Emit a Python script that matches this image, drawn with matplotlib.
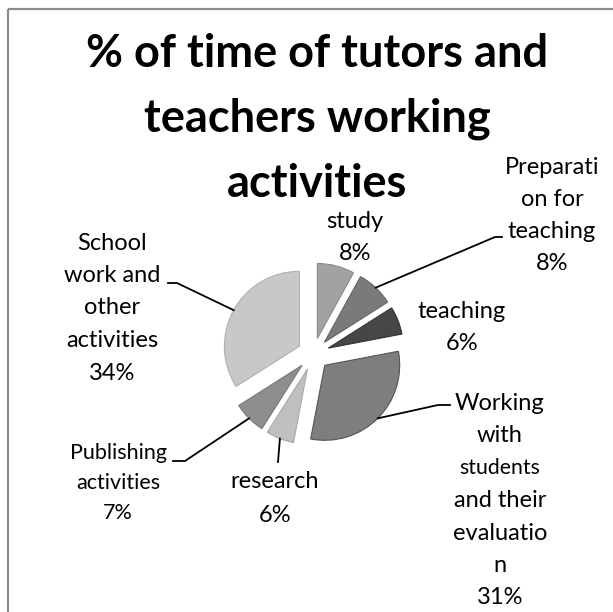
import matplotlib
matplotlib.use("Agg")
import matplotlib.pyplot as plt
import numpy as np

# ---- data ----
categories = ["study", "Preparati\non for\nteaching", "teaching",
              "Working\nwith\nstudents\nand their\nevaluatio\nn",
              "research", "Publishing\nactivities",
              "School\nwork and\nother\nactivities"]
values = [8, 8, 6, 31, 6, 7, 34]
title_lines = ["% of time of tutors and", "teachers working", "activities"]

# ---- style ----
colors = ["#a2a2a2", "#7a7a7a", "#464646", "#7e7e7e", "#c0c0c0", "#8e8e8e", "#c8c8c8"]
edge = ["#8a8a8a", "#656565", "#333333", "#555555", "#a8a8a8", "#777777", "#b0b0b0"]
W, H = 613, 612
FONT = "Lato"

# label layout: center x, first line y (pixel, from top), line spacing, font size
label_pos = [(355, 222, 32, 17), (552, 167, 32, 17), (462, 312, 31, 17),
             (500, 403, 32.5, 17), (275, 482, 33, 17), (118, 453, 30, 15.5),
             (112, 243, 32.5, 17)]
# leader elbows (pixel coords) : list of points after rim point, or None
leaders = [None, [(495, 237), (502, 237)], None, [(438, 405), (450, 405)],
           [(278, 462)], [(185, 461), (173, 461)], [(177, 283), (168, 283)]]

fig = plt.figure(figsize=(W / 100, H / 100), dpi=100)
ax = fig.add_axes([0, 0, 1, 1])

cx, cy, R, EXP = 313.4, H - 354, 75, 16
wedges, _ = ax.pie(values, startangle=90, counterclock=False, radius=R,
                   center=(cx, cy), explode=[EXP] * len(values),
                   colors=colors, wedgeprops=dict(linewidth=0.8))
for w, e in zip(wedges, edge):
    w.set_edgecolor(e)

ax.set_xlim(0, W)
ax.set_ylim(0, H)
ax.set_aspect("auto")
ax.axis("off")

# border
ax.plot([8, 8], [0, H - 9], color="#8c8c8c", lw=1.6, solid_capstyle="butt")
ax.plot([8, W], [H - 9, H - 9], color="#8c8c8c", lw=1.6, solid_capstyle="butt")

# title
for i, t in enumerate(title_lines):
    ax.text(317, H - (54 + 65 * i), t, ha="center", va="center",
            fontsize=32.5, fontweight="bold", family=FONT, color="black")

# labels
for cat, v, (lx, ly, sp, fs), w, ld in zip(categories, values, label_pos, wedges, leaders):
    lines = cat.split("\n") + [f"{v}%"]
    for j, ln in enumerate(lines):
        s = fs
        if ln == "students":
            s = fs * 0.9
        ax.text(lx, H - (ly + sp * j), ln, ha="center", va="center",
                fontsize=s, family=FONT, color="black")
    if ld is not None:
        th = np.deg2rad((w.theta1 + w.theta2) / 2)
        px = w.center[0] + w.r * np.cos(th)
        py = w.center[1] + w.r * np.sin(th)
        xs = [px] + [p[0] for p in ld]
        ys = [py] + [H - p[1] for p in ld]
        ax.plot(xs, ys, color="black", lw=1.3)

fig.savefig("out.png", dpi=100)
